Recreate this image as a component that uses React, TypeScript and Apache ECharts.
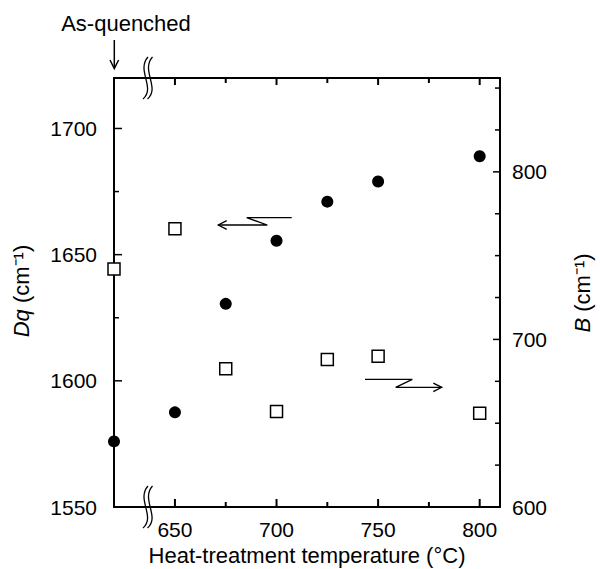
import { useEffect, useRef } from 'react';
import * as echarts from 'echarts';

// x = 620 marks the "As-quenched" sample (drawn on the left axis)
const temperatures = [620, 650, 675, 700, 725, 750, 800];
const dqValues = [1576, 1587.5, 1630.5, 1655.5, 1671, 1679, 1689];
const bValues = [742, 766, 682.5, 657, 688, 690, 656];

const xMajorTicks = [650, 700, 750, 800];
const xMinorTicks = [675, 725, 775];
const dqMajorTicks = [1550, 1600, 1650, 1700];
const dqMinorTicks = [1575, 1625, 1675];
const bMajorTicks = [600, 700, 800];
const bMinorTicks = [625, 650, 675, 725, 750, 775, 825, 850];

const FONT = '"Liberation Sans", Arial, Helvetica, sans-serif';

export default function App() {
  const ref = useRef<HTMLDivElement>(null);

  useEffect(() => {
    if (!ref.current) return;
    const chart = echarts.init(ref.current, null, { renderer: 'svg' });

    const black = '#000';
    const lineStyle = { color: black, width: 2 };
    const labelStyle = { color: black, fontSize: 21, fontFamily: FONT, formatter: (v: number) => String(v) };
    const X_MIN = 620, X_MAX = 810;
    const DQ_MIN = 1550, DQ_MAX = 1720;
    const B_MIN = 600, B_MAX = 856;
    const MAJOR_LEN = 8, MINOR_LEN = 5;
    const TICK_W = 1.5;
    const X_TICK_W = 2;

    const dqData = temperatures.map((t, i) => [t, dqValues[i]]);
    const bData = temperatures.map((t, i) => [t, bValues[i]]);

    const tagTicks = (major: number[], minor: number[]) => [
      ...major.map((v) => [v, 1]),
      ...minor.map((v) => [v, 0]),
    ];

    // custom series drawing inward ticks (as thin filled rects) at data positions
    const tickSeries = (yAxisIndex: number, data: number[][], dir: 'right' | 'left', majorLen: number) => ({
      type: 'custom',
      xAxisIndex: 0,
      yAxisIndex,
      clip: false,
      silent: true,
      z: 3,
      data,
      renderItem: (params: any, api: any) => {
        const len = api.value(2) ? majorLen : MINOR_LEN;
        const p = api.coord([api.value(0), api.value(1)]);
        const shape = dir === 'right'
          ? { x: p[0], y: p[1] - TICK_W / 2, width: len, height: TICK_W }
          : { x: p[0] - len, y: p[1] - TICK_W / 2, width: len, height: TICK_W };
        return { type: 'rect', shape, style: { fill: black } };
      },
    });

    const breakMark = (x: number, yc: number) => [0, 4.5].map((dx) => ({
      type: 'bezierCurve',
      z: 100,
      shape: {
        x1: x + 4 + dx, y1: yc - 21,
        cpx1: x - 8 + dx, cpy1: yc - 8,
        cpx2: x + 12 + dx, cpy2: yc + 10,
        x2: x - 1 + dx, y2: yc + 21,
      },
      style: { stroke: black, fill: null, lineWidth: 1.3 },
    }));

    const textStyle = (text: string, size: number, rich?: any) => ({
      text,
      fill: black,
      fontSize: size,
      fontFamily: FONT,
      align: 'center',
      verticalAlign: 'middle',
      textAlign: 'center',
      textVerticalAlign: 'middle',
      rich,
    });

    const graphics: any[] = [
      { type: 'text', x: 126, y: 23, style: textStyle('As-quenched', 22) },
      { type: 'line', shape: { x1: 114.3, y1: 40, x2: 114.3, y2: 68 }, style: { stroke: black, lineWidth: 1.5 } },
      { type: 'polyline', shape: { points: [[110, 60], [114.3, 68.5], [118.6, 60]] }, style: { stroke: black, fill: null, lineWidth: 1.5 } },
      {
        type: 'text', x: 21, y: 291, rotation: Math.PI / 2,
        style: textStyle('{i|Dq} (cm⁻¹)', 22, { i: { fontStyle: 'italic', fontSize: 22, fontFamily: FONT, fill: black } }),
      },
      {
        type: 'text', x: 582, y: 293, rotation: Math.PI / 2,
        style: textStyle('{i|B} (cm⁻¹)', 22, { i: { fontStyle: 'italic', fontSize: 22, fontFamily: FONT, fill: black } }),
      },
      // arrow pointing to the left axis (Dq)
      {
        type: 'polyline', z: 100,
        shape: { points: [[291.7, 217.7], [246.7, 217.7], [267.3, 225], [218.3, 225]] },
        style: { stroke: black, fill: null, lineWidth: 1.3 },
      },
      {
        type: 'polyline', z: 100,
        shape: { points: [[226.7, 220.7], [218.3, 225], [226.7, 229.3]] },
        style: { stroke: black, fill: null, lineWidth: 1.3 },
      },
      // arrow pointing to the right axis (B)
      {
        type: 'polyline', z: 100,
        shape: { points: [[365, 379.3], [412.3, 379.3], [395.7, 387.3], [441.7, 387.3]] },
        style: { stroke: black, fill: null, lineWidth: 1.3 },
      },
      {
        type: 'polyline', z: 100,
        shape: { points: [[433.3, 383.1], [441.7, 387.3], [433.3, 391.6]] },
        style: { stroke: black, fill: null, lineWidth: 1.3 },
      },
      ...breakMark(144, 78),
      ...breakMark(144, 507),
    ];

    chart.setOption({
      animation: false,
      backgroundColor: '#fff',
      grid: { left: 114, right: 100, top: 78, bottom: 62, outerBoundsMode: 'none' },
      xAxis: [
        {
          type: 'value', min: X_MIN, max: X_MAX, position: 'bottom',
          splitLine: { show: false },
          name: 'Heat-treatment temperature (°C)', nameLocation: 'middle', nameGap: 34,
          nameTextStyle: { color: black, fontSize: 22, fontFamily: FONT },
          axisLine: { show: true, onZero: false, lineStyle },
          axisTick: { show: false },
          axisLabel: { ...labelStyle, customValues: xMajorTicks, margin: 12 },
        },
        {
          type: 'value', min: X_MIN, max: X_MAX, position: 'top',
          splitLine: { show: false },
          axisLine: { show: true, onZero: false, lineStyle },
          axisTick: { show: false },
          axisLabel: { show: false },
        },
      ],
      yAxis: [
        {
          type: 'value', min: DQ_MIN, max: DQ_MAX, position: 'left',
          splitLine: { show: false },
          axisLine: { show: true, onZero: false, lineStyle },
          axisTick: { show: false },
          axisLabel: { ...labelStyle, customValues: dqMajorTicks, margin: 17 },
        },
        {
          type: 'value', min: B_MIN, max: B_MAX, position: 'right',
          splitLine: { show: false },
          axisLine: { show: true, onZero: false, lineStyle },
          axisTick: { show: false },
          axisLabel: { ...labelStyle, customValues: bMajorTicks, margin: 12 },
        },
      ],
      series: [
        tickSeries(0, tagTicks(dqMajorTicks, dqMinorTicks).map(([v, m]) => [X_MIN, v, m]), 'right', MAJOR_LEN),
        tickSeries(1, tagTicks(bMajorTicks, bMinorTicks).map(([v, m]) => [X_MAX, v, m]), 'left', MAJOR_LEN - 1),
        {
          name: 'Dq',
          type: 'scatter',
          xAxisIndex: 0,
          yAxisIndex: 0,
          clip: false,
          symbol: 'circle',
          symbolSize: 12,
          itemStyle: { color: black, opacity: 1 },
          data: dqData,
          z: 5,
        },
        {
          name: 'B',
          type: 'scatter',
          xAxisIndex: 0,
          yAxisIndex: 1,
          clip: false,
          symbol: 'rect',
          symbolSize: 12,
          itemStyle: { color: '#fff', borderColor: black, borderWidth: 1.5, opacity: 1 },
          data: bData,
          z: 5,
        },
      ],
      graphic: graphics,
    });

    // x-axis ticks (bottom and top, pointing inward), placed through the x scale
    const yBottom = chart.convertToPixel({ yAxisIndex: 0 }, DQ_MIN) as unknown as number;
    const yTop = chart.convertToPixel({ yAxisIndex: 0 }, DQ_MAX) as unknown as number;
    const xTickGraphics: any[] = [];
    tagTicks(xMajorTicks, xMinorTicks).forEach(([v, m]) => {
      const px = chart.convertToPixel({ xAxisIndex: 0 }, v) as unknown as number;
      const lenB = m ? MAJOR_LEN : MINOR_LEN;
      const lenT = m ? MAJOR_LEN - 1 : MINOR_LEN;
      xTickGraphics.push(
        { type: 'rect', z: 50, shape: { x: px - X_TICK_W / 2, y: yBottom - lenB, width: X_TICK_W, height: lenB }, style: { fill: black } },
        { type: 'rect', z: 50, shape: { x: px - X_TICK_W / 2, y: yTop, width: X_TICK_W, height: lenT }, style: { fill: black } },
      );
    });
    chart.setOption({ graphic: [...graphics, ...xTickGraphics] });

    return () => chart.dispose();
  }, []);

  return (
    <div
      ref={ref}
      style={{ position: 'fixed', left: 0, top: 0, width: 600, height: 569, background: '#fff' }}
    />
  );
}
